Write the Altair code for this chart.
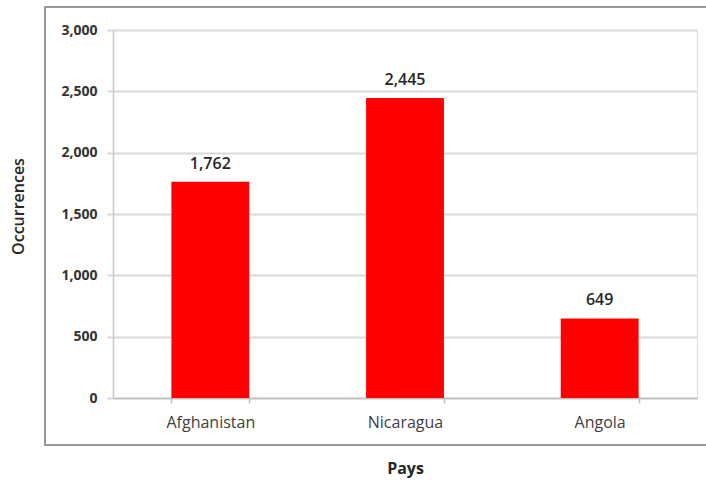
import altair as alt
import pandas as pd

# Occurrences per country
countries = ["Afghanistan", "Nicaragua", "Angola"]
occurrences = [1762, 2445, 649]
y_ticks = [0, 500, 1000, 1500, 2000, 2500, 3000]

df = pd.DataFrame({"Pays": countries, "Occurrences": occurrences})

FONT = "Open Sans"
GRID = "#d9d9d9"

x_enc = alt.X(
    "Pays:N",
    sort=countries,
    title="Pays",
    scale=alt.Scale(paddingInner=0.6, paddingOuter=0.3),
    axis=alt.Axis(
        labelAngle=0,
        labelFont=FONT,
        labelFontSize=16,
        labelColor="#404040",
        labelPadding=11,
        titleFont=FONT,
        titleFontSize=16,
        titleFontWeight="bold",
        titleColor="#262626",
        titleX=292,
        titleY=70,
        titleBaseline="middle",
        domainColor="#bfbfbf",
        domainWidth=1.5,
        tickColor="#bfbfbf",
        tickSize=5,
        tickWidth=1.5,
        tickBand="extent",
        grid=False,
    ),
)

y_enc = alt.Y(
    "Occurrences:Q",
    title="Occurrences",
    scale=alt.Scale(domain=[0, 3000], nice=False),
    axis=alt.Axis(
        values=y_ticks,
        format=",.0f",
        labelFont=FONT,
        labelFontSize=14,
        labelFontWeight="bold",
        labelColor="#333333",
        labelPadding=10,
        titleFont=FONT,
        titleFontSize=16,
        titleFontWeight=600,
        titleColor="#262626",
        titleX=-95,
        titleY=176,
        titleBaseline="middle",
        titleAlign="center",
        domainColor="#c8c8c8",
        domainWidth=1.5,
        tickColor=GRID,
        tickSize=6,
        tickWidth=2,
        gridColor=GRID,
        gridWidth=2,
    ),
)

bars = alt.Chart(df).mark_bar(color="#ff0000").encode(x=x_enc, y=y_enc)

labels = alt.Chart(df).mark_text(
    baseline="bottom",
    dy=-10,
    font=FONT,
    fontSize=16,
    fontWeight=600,
    color="#262626",
).encode(
    x=alt.X("Pays:N", sort=countries),
    y="Occurrences:Q",
    text=alt.Text("Occurrences:Q", format=",.0f"),
)

# outer frame around the chart
frame = alt.Chart(df).mark_rect(
    fill=None, stroke="#999999", strokeWidth=2, clip=False
).encode(
    x=alt.value(-68), x2=alt.value(600), y=alt.value(-23), y2=alt.value(47 + 368)
)

chart = (
    alt.layer(frame, bars, labels)
    .properties(
        width=584,
        height=368,
        padding={"left": 113, "top": 30, "right": 9, "bottom": 82},
        autosize=alt.AutoSizeParams(type="none"),
    )
    .configure_view(stroke=None)
    .configure(background="white")
)

chart.save("out.html", embed_options={"renderer": "svg", "actions": False})
